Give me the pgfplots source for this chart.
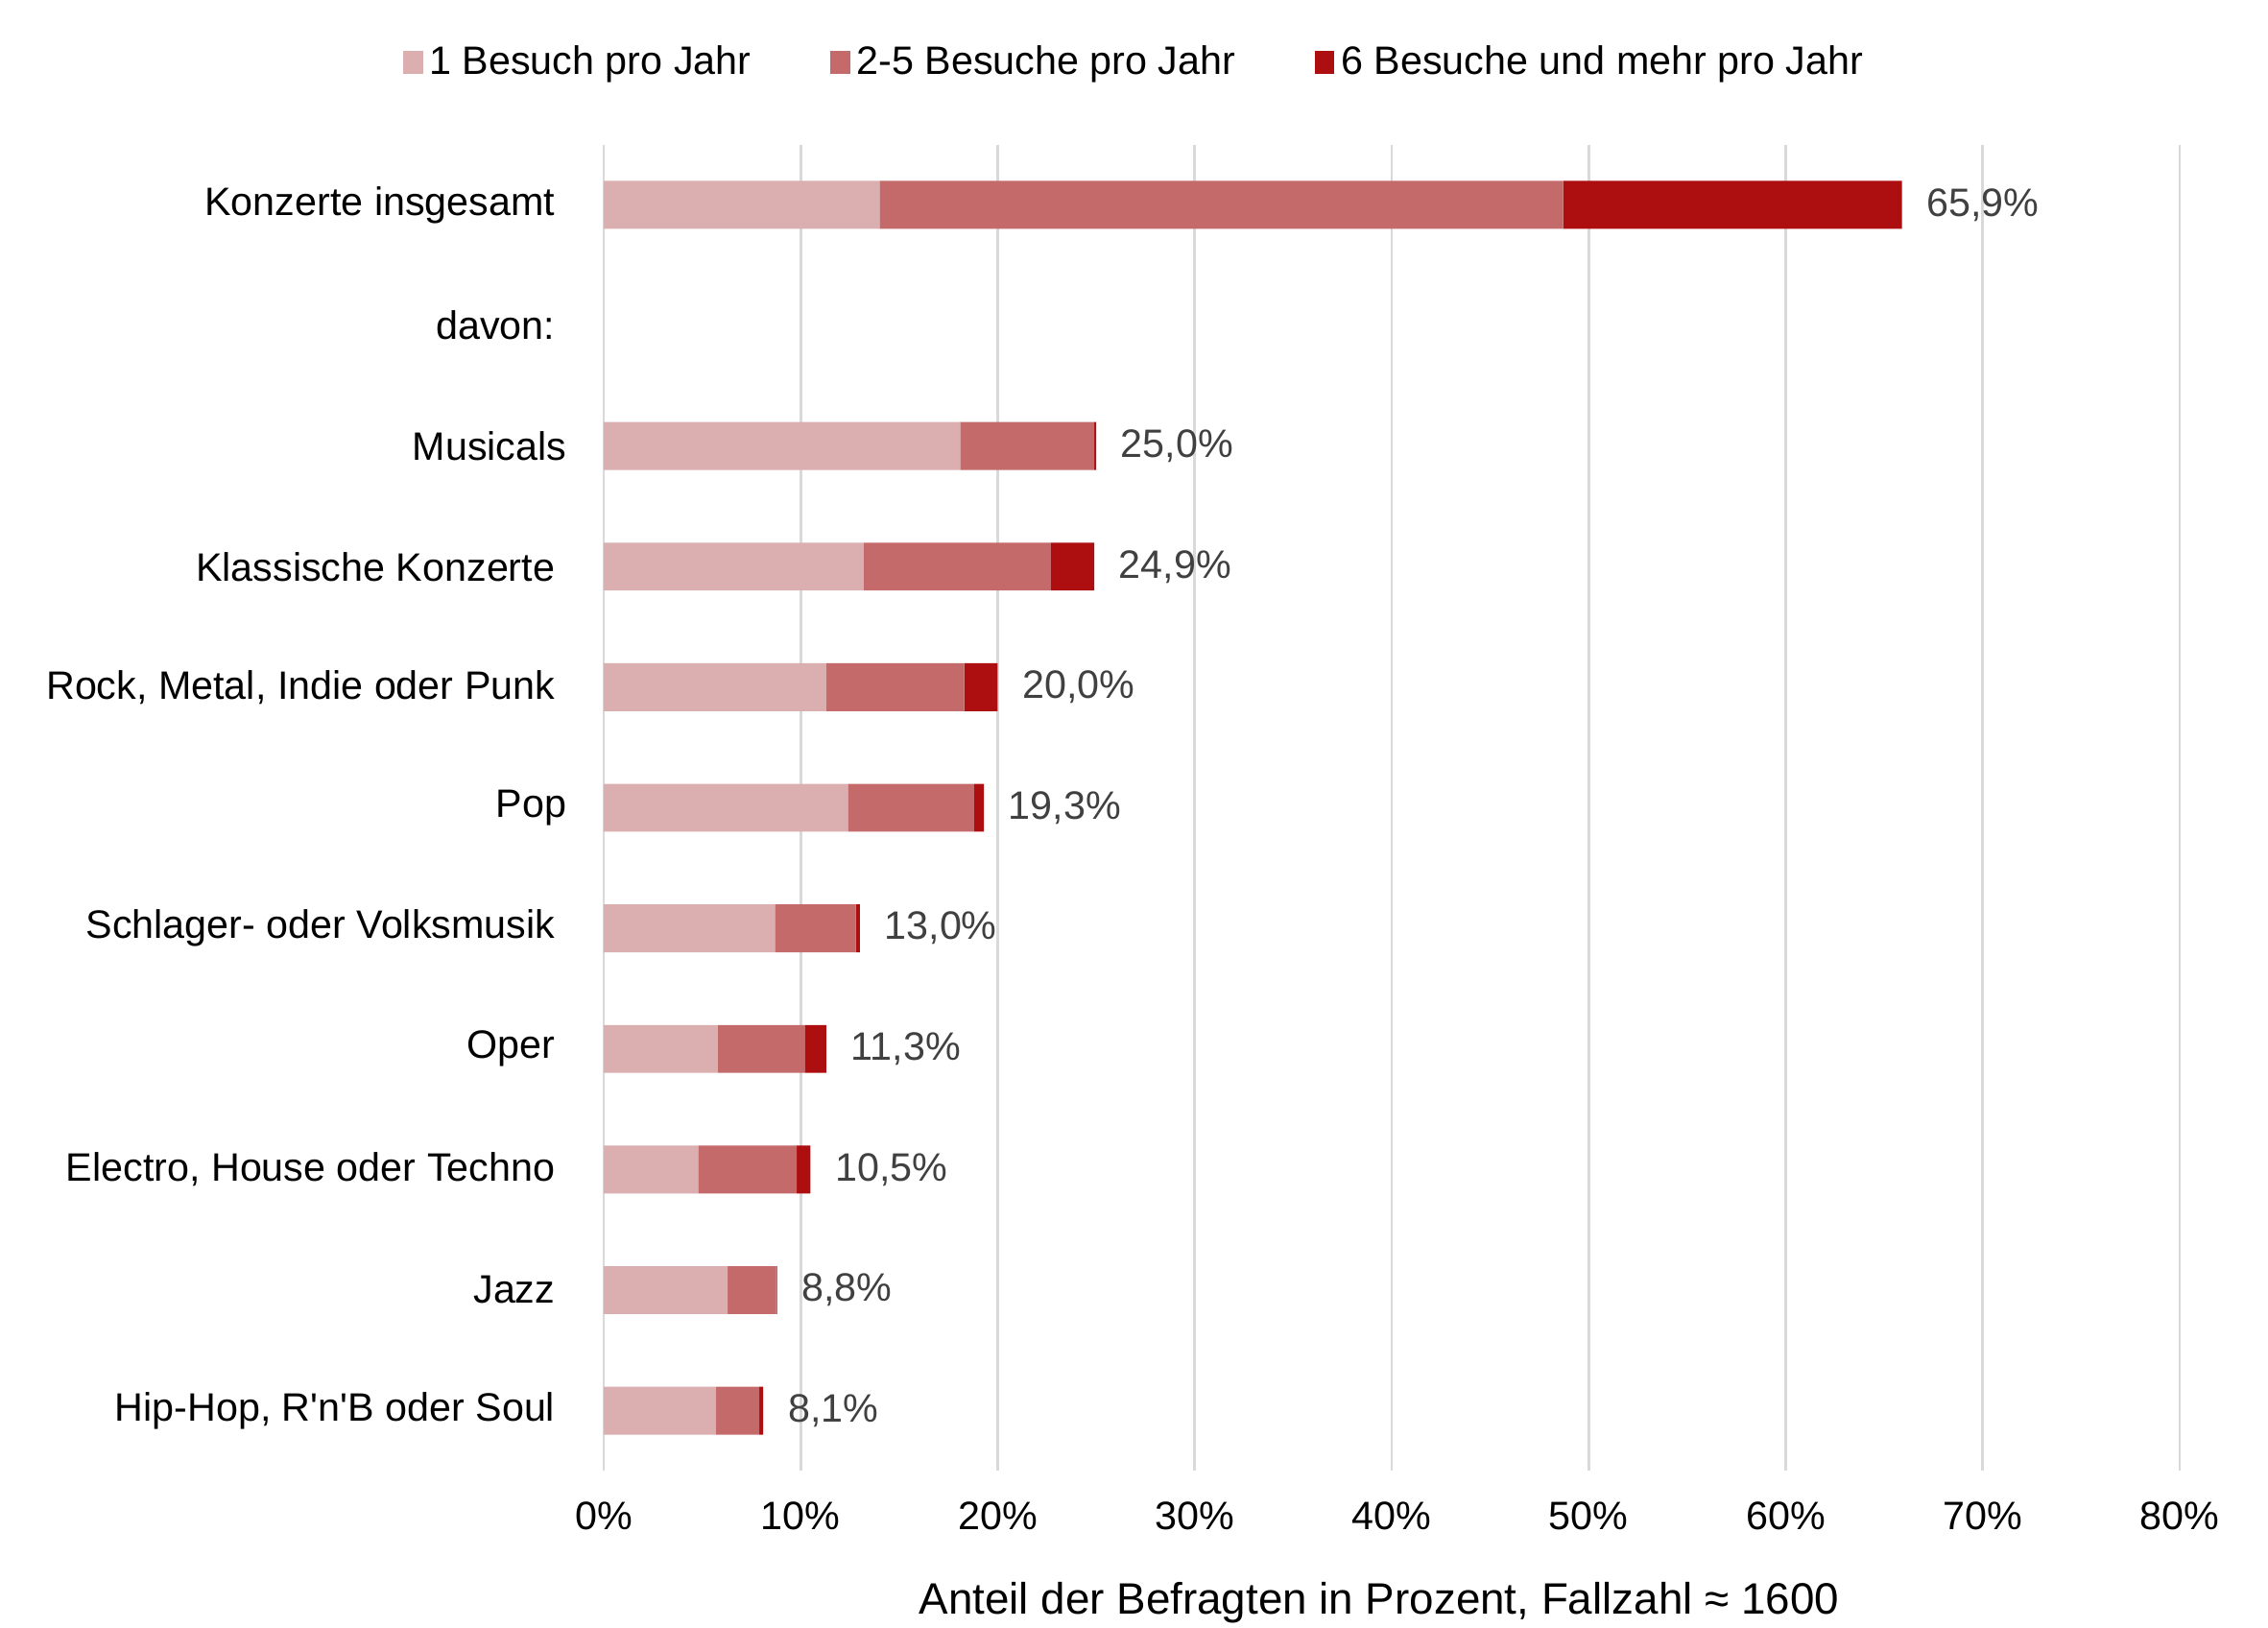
\documentclass[border=0pt]{standalone}
\usepackage{pgfplots}
\pgfplotsset{compat=1.18}
\usepackage{pgfplotstable}
\usepackage{fontspec}
\setmainfont{Liberation Sans}
\definecolor{cLight}{HTML}{DBAEAF}
\definecolor{cMid}{HTML}{C46A6A}
\definecolor{cDark}{HTML}{AD0E10}
\definecolor{cGrid}{HTML}{D9D9D9}
\definecolor{cVal}{HTML}{404040}
\pgfplotstableread{
y  l     m     d     label
0  14.0  34.7  17.2  65,9\%
2  18.1  6.8   0.1   25,0\%
3  13.2  9.5   2.2   24,9\%
4  11.3  7.0   1.7   20,0\%
5  12.4  6.4   0.5   19,3\%
6  8.7   4.1   0.2   13,0\%
7  5.8   4.4   1.1   11,3\%
8  4.8   5.0   0.7   10,5\%
9  6.3   2.45  0.05  8,8\%
10 5.7   2.2   0.2   8,1\%
}\datatable
\begin{document}
\begin{tikzpicture}
\begin{axis}[
  scale only axis,
  width=477.4pt, height=401.7pt,
  xbar stacked,
  bar width=14.5pt,
  xmin=0, xmax=80,
  ymin=-0.5, ymax=10.5,
  y dir=reverse,
  axis line style={draw=none},
  major tick length=0pt,
  xtick={0,10,...,80},
  xticklabels={0\%,10\%,20\%,30\%,40\%,50\%,60\%,70\%,80\%},
  ytick={0,1,...,10},
  yticklabels={Konzerte insgesamt,davon:,Musicals\hspace*{-3.5pt},Klassische Konzerte,{Rock, Metal, Indie oder Punk},Pop\hspace*{-3.5pt},Schlager- oder Volksmusik,Oper,{Electro, House oder Techno},Jazz,{Hip-Hop, R\textquotesingle n\textquotesingle B oder Soul}},
  xmajorgrids,
  grid style={cGrid, line width=0.8pt},
  tick label style={font=\fontsize{12}{14}\selectfont},
  yticklabel style={xshift=-11.2pt},
  xticklabel style={yshift=-5.8pt},
  xlabel={Anteil der Befragten in Prozent, Fallzahl ≈ 1600},
  xlabel style={font=\fontsize{13.3}{15}\selectfont, at={(axis description cs:0.492,0)}, anchor=center, yshift=-40pt},
  legend columns=3,
  legend style={draw=none, fill=none, font=\fontsize{12}{14}\selectfont,
    at={(axis description cs:0.338,1.062)}, anchor=center,
    /tikz/every even column/.append style={column sep=22pt},
    nodes={inner sep=2pt}},
  legend image code/.code={\fill[#1] (0pt,-3.4pt) rectangle (6pt,3.4pt);},
]
\addplot[fill=cLight, draw=none] table[x=l, y=y] {\datatable};
\addlegendentry{1 Besuch pro Jahr}
\addplot[fill=cMid, draw=none] table[x=m, y=y] {\datatable};
\addlegendentry{2-5 Besuche pro Jahr}
\addplot[fill=cDark, draw=none,
  visualization depends on=rawx \as \dval,
  point meta=explicit symbolic,
  nodes near coords,
  nodes near coords style={font=\fontsize{12}{14}\selectfont, text=cVal, anchor=west, xshift={4pt+2.984pt*\dval}}]
  table[x=d, y=y, meta=label] {\datatable};
\addlegendentry{6 Besuche und mehr pro Jahr}
\coordinate (bl) at (rel axis cs:-0.383,-0.118);
\coordinate (tr) at (rel axis cs:1.056,1.109);
\end{axis}
\pgfresetboundingbox
\useasboundingbox (bl) rectangle (tr);
\end{tikzpicture}
\end{document}
